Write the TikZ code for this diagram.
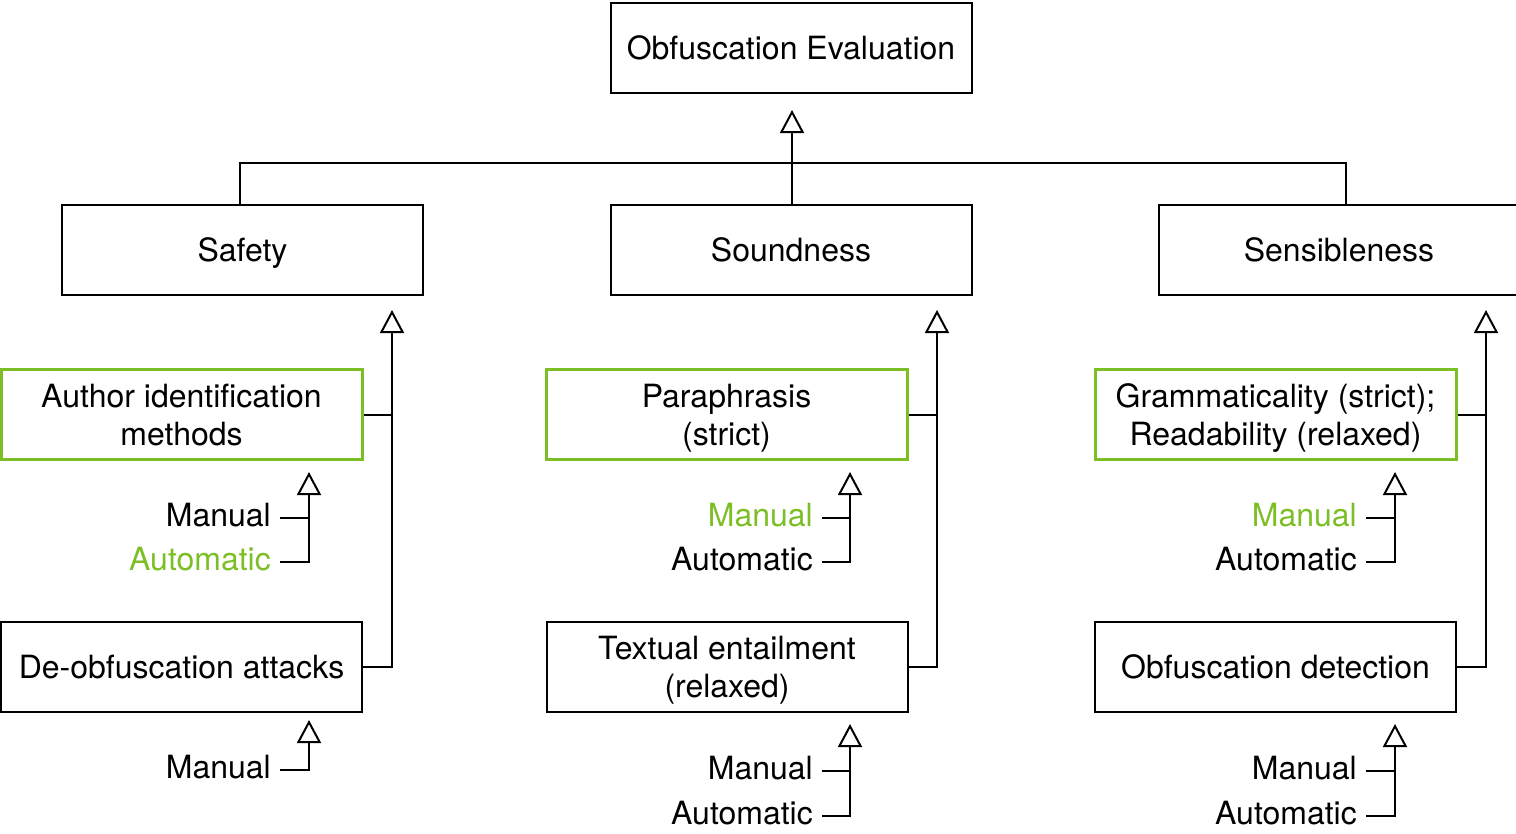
\documentclass[tikz,border=0pt]{standalone}
\usepackage{fontspec}
\setmainfont{TeX Gyre Heros}
\usetikzlibrary{arrows.meta}
\definecolor{lgreen}{RGB}{124,190,38}
\tikzset{
  box/.style={draw=black, line width=2pt, minimum width=361pt, minimum height=90pt, align=center, inner sep=0pt, font=\fontsize{32}{38}\selectfont, text height=28.8pt, text depth=5.8pt},
  twoline/.style={text height=66.8pt, text depth=5.8pt},
  gbox/.style={box, draw=lgreen, line width=3pt},
  lab/.style={anchor=east, inner xsep=9pt, inner ysep=0pt, font=\fontsize{32}{38}\selectfont, text height=28.8pt, text depth=11.8pt},
  con/.style={line width=2pt},
  inh/.style={con, -{Triangle[open, length=23pt, width=24pt]}},
}
\begin{document}
\begin{tikzpicture}[x=1pt, y=-1pt]
\useasboundingbox (0,0) rectangle (1516,833);
\clip (0,0) rectangle (1516,833);
% top
\node[box] (eval) at (791,48) {Obfuscation Evaluation};
\node[box] (safety) at (242.5,250) {Safety};
\node[box] (sound) at (791,250) {Soundness};
\node[box] (sens) at (1339,250) {Sensibleness};
\coordinate (tTop) at (792,110);
\draw[inh] (sound.north -| tTop) -- (tTop);
\draw[con] ([xshift=-2.5pt]safety.north) -- ++(0,-41) -| ([xshift=7pt]sens.north);

% column nodes
\node[gbox, twoline] (auth) at (181.5,414.5) {Author identification\\methods};
\node[box] (deob) at (181.5,666.5) {De-obfuscation attacks};
\node[gbox, twoline] (para) at (726.5,414.5) {Paraphrasis\\(strict)};
\node[box, twoline] (text) at (727,666.5) {Textual entailment\\(relaxed)};
\node[gbox, twoline] (gram) at (1275.5,414.5) {Grammaticality (strict);\\Readability (relaxed)};
\node[box] (odet) at (1275.5,666.5) {Obfuscation detection};

% column arrows
\coordinate (tS) at (392,310);
\coordinate (tM) at (937,310);
\coordinate (tR) at (1486,310);
\draw[inh] (deob.east) -| (tS);
\draw[con] (auth.east) -- (auth.east -| tS);
\draw[inh] (text.east) -| (tM);
\draw[con] (para.east) -- (para.east -| tM);
\draw[inh] (odet.east) -| (tR);
\draw[con] (gram.east) -- (gram.east -| tR);

% Safety: methods
\coordinate (tA1) at (309,472);
\node[lab] (m1) at (280,518) {Manual};
\node[lab, text=lgreen] (a1) at (280,562) {Automatic};
\draw[inh] (a1.east) -| (tA1);
\draw[con] (m1.east) -- (m1.east -| tA1);
\coordinate (tA2) at (309,720);
\node[lab] (m2) at (280,770) {Manual};
\draw[inh] (m2.east) -| (tA2);

% Soundness
\coordinate (tB1) at (850,472);
\node[lab, text=lgreen] (m3) at (822,518) {Manual};
\node[lab] (a3) at (822,562) {Automatic};
\draw[inh] (a3.east) -| (tB1);
\draw[con] (m3.east) -- (m3.east -| tB1);
\coordinate (tB2) at (850,724);
\node[lab] (m4) at (822,771) {Manual};
\node[lab] (a4) at (822,816) {Automatic};
\draw[inh] (a4.east) -| (tB2);
\draw[con] (m4.east) -- (m4.east -| tB2);

% Sensibleness
\coordinate (tC1) at (1395,472);
\node[lab, text=lgreen] (m5) at (1366,518) {Manual};
\node[lab] (a5) at (1366,562) {Automatic};
\draw[inh] (a5.east) -| (tC1);
\draw[con] (m5.east) -- (m5.east -| tC1);
\coordinate (tC2) at (1395,724);
\node[lab] (m6) at (1366,771) {Manual};
\node[lab] (a6) at (1366,816) {Automatic};
\draw[inh] (a6.east) -| (tC2);
\draw[con] (m6.east) -- (m6.east -| tC2);
\end{tikzpicture}
\end{document}
